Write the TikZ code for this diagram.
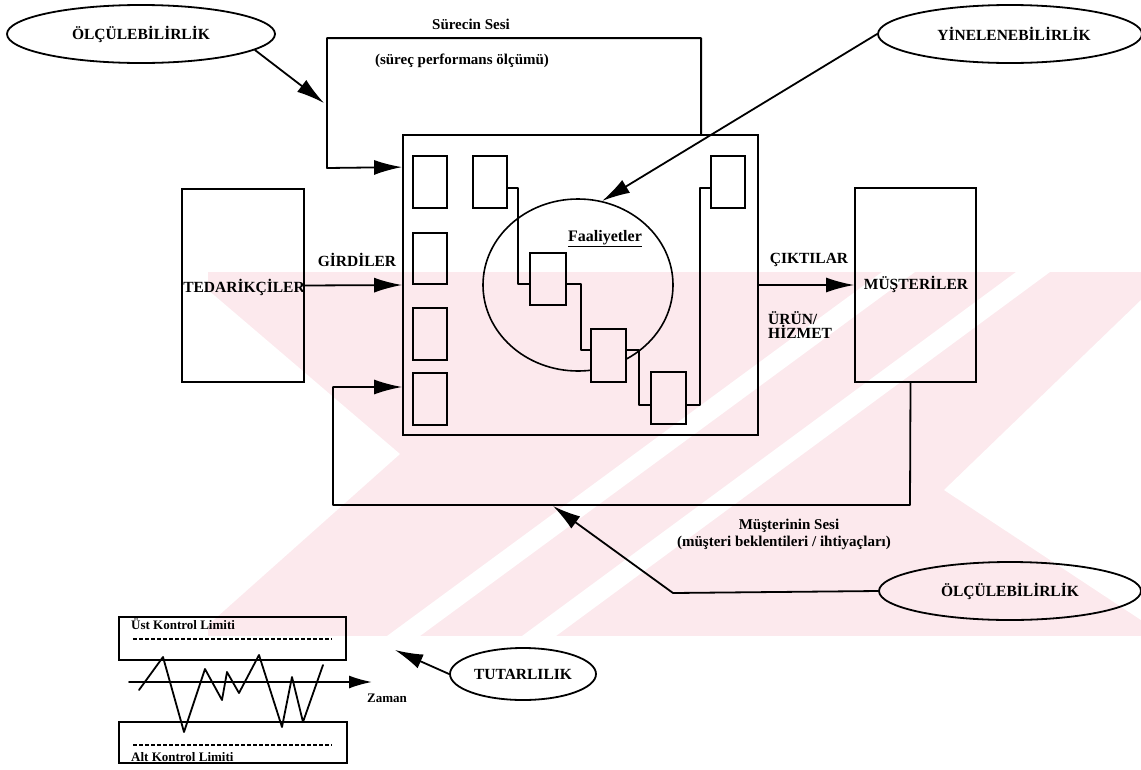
\documentclass[tikz,border=0pt]{standalone}
\usepackage{fontspec}
\setmainfont{Liberation Serif}
\usetikzlibrary{arrows.meta,shapes.geometric,calc}
\definecolor{wmpink}{RGB}{252,233,237}
\tikzset{
  ln/.style={line width=1.8pt, line cap=round, line join=round},
  arr/.style={ln, -{Latex[length=28pt,width=15pt]}},
  smallarr/.style={ln, -{Latex[length=23pt,width=13pt]}},
  box/.style={draw, rectangle, line width=1.8pt, inner sep=0pt},
  oval/.style={draw, ellipse, line width=1.8pt, inner sep=0pt, caps},
  caps/.style={font=\bfseries\fontsize{15.5}{17}\selectfont, inner sep=0pt},
  lbl/.style={font=\bfseries\fontsize{15}{17}\selectfont, inner sep=0pt},
  small/.style={font=\bfseries\fontsize{13}{15}\selectfont, inner sep=0pt},
  limit/.style={line width=1.3pt, dash pattern=on 4pt off 2pt},
}
\begin{document}
\begin{tikzpicture}[x=1pt,y=-1pt]
\useasboundingbox (0,0) rectangle (1141,769);
\fill[white] (0,0) rectangle (1141,769);

% background seal
\begin{scope}
  \clip (208,272) rectangle (1141,636);
  \fill[wmpink] (208,272) rectangle (1141,636);
  \fill[white] (208,290) -- (400,454) -- (208,625) -- cycle;
  \fill[white] (387,636) -- (420,636) -- (915,272) -- (882,272) -- cycle;
  \fill[white] (522,636) -- (556,636) -- (1050,272) -- (1016,272) -- cycle;
  \fill[white] (1141,300) -- (944,490) -- (1141,620) -- cycle;
\end{scope}

% ---- process ----
\node[box, minimum width=355, minimum height=300] (P) at (580.5,285) {};
\node[box, minimum width=34, minimum height=52] (L1) at (430,182) {};
\node[box, minimum width=34, minimum height=51] (L2) at (430,258.5) {};
\node[box, minimum width=34, minimum height=52] (L3) at (430,334) {};
\node[box, minimum width=34, minimum height=52] (L4) at (430,399) {};
\node[box, minimum width=34, minimum height=52] (T2) at (490,182) {};
\node[box, minimum width=34, minimum height=52] (TR) at (728,182) {};
\node[box, minimum width=36, minimum height=52] (A) at (548,279) {};
\node[box, minimum width=35, minimum height=53] (B) at (608.5,355.5) {};
\node[box, minimum width=35, minimum height=52] (C) at (668.5,398) {};

% activity circle, kept out of box B
\begin{scope}[even odd rule]
  \clip (0,0) rectangle (1141,769) (B.north west) rectangle (B.south east);
  \node[draw, ellipse, line width=1.6pt, minimum width=190, minimum height=172] (act) at (578,285) {};
\end{scope}
\node[font=\bfseries\fontsize{16}{18}\selectfont, inner sep=0pt] at (605,239) {\underline{Faaliyetler}};

% flow between activities
\draw[ln] ($(T2.east)+(0,6)$) -- ++(10,0) |- ($(A.west)+(0,5)$);
\draw[ln] ($(A.east)+(0,5)$) -- ++(14,0) |- ($(B.west)+(0,-5.5)$);
\draw[ln] ($(B.east)+(0,-5.5)$) -- ++(12,0) |- ($(C.west)+(0,7)$);
\draw[ln] ($(C.east)+(0,7)$) -- ++(13,0) |- ($(TR.west)+(0,6)$);

% ---- suppliers and customers ----
\node[box, minimum width=122, minimum height=193] (TED) at (243,285.5) {};
\node[caps] at (244,287) {TEDARİKÇİLER};
\node[box, minimum width=121, minimum height=194] (MUS) at (915.5,285) {};
\node[caps] at (916,284) {MÜŞTERİLER};

\draw[arr] (TED.east) -- (P.west);
\draw[arr] (P.east) -- (MUS.west);
\node[caps] at (357,260) {GİRDİLER};
\node[caps] at (809,260) {ÇIKTILAR};
\node[caps, anchor=west] at (768,318) {ÜRÜN/};
\node[caps, anchor=west] at (768,332) {HİZMET};

% voice of the process
\draw[arr] ($(P.north west)+(299,0)$) -- ++(0,-96) -| (327,168) -- ($(P.north west)+(0,33)$);
\node[lbl] at (471,24) {Sürecin Sesi};
\node[lbl] at (462,61) {(süreç performans ölçümü)};

% voice of the customer
\draw[arr] ($(MUS.south)+(-5,0)$) -- (910,505) -| (333,387) -- ($(P.west)+(0,102)$);
\node[lbl] at (789,526) {Müşterinin Sesi};
\node[lbl] at (784,543) {(müşteri beklentileri / ihtiyaçları)};

% ---- qualities ----
\node[oval, minimum width=268, minimum height=58] (E1) at (141,34) {ÖLÇÜLEBİLİRLİK};
\node[oval, minimum width=264, minimum height=58] (E2) at (1010,34) {\hspace*{8pt}YİNELENEBİLİRLİK};
\node[oval, minimum width=262, minimum height=58] (E3) at (1010,591) {ÖLÇÜLEBİLİRLİK};
\node[oval, minimum width=146, minimum height=52] (E4) at (523,674) {TUTARLILIK};

\coordinate (m1) at (324,103);
\coordinate (voc) at (553,506);
\coordinate (vbend) at (673,593);
\coordinate (tut) at (395,650);
\draw[arr] (E1.-8) -- (m1);
\draw[arr] (E2.west) -- (act.74);
\draw[arr] (E3.west) -- (vbend) -- (voc);

% ---- control chart ----
\node[box, minimum width=227, minimum height=43] (UCL) at (232.5,638.5) {};
\node[box, minimum width=228, minimum height=41] (LCL) at (233,742.5) {};
\node[small, anchor=west] at (131,624) {Üst Kontrol Limiti};
\node[small, anchor=base west] at (131,761) {Alt Kontrol Limiti};
\draw[limit] (133,639) -- (332,639);
\draw[limit] (133,745) -- (332,745);
\coordinate (t0) at (129,682);
\coordinate (t1) at (372,682);
\draw[smallarr] (t0) -- (t1);
\node[small, anchor=west] at (367,698) {Zaman};
\draw[ln] (139,690) -- (163,657) -- (184,732) -- (205,669) -- (222,700) -- (227,672)
  -- (239,693) -- (259,655) -- (282,727) -- (292,677) -- (303,722) -- (323,665);
\draw[arr] (E4.west) -- (tut);
\end{tikzpicture}
\end{document}
